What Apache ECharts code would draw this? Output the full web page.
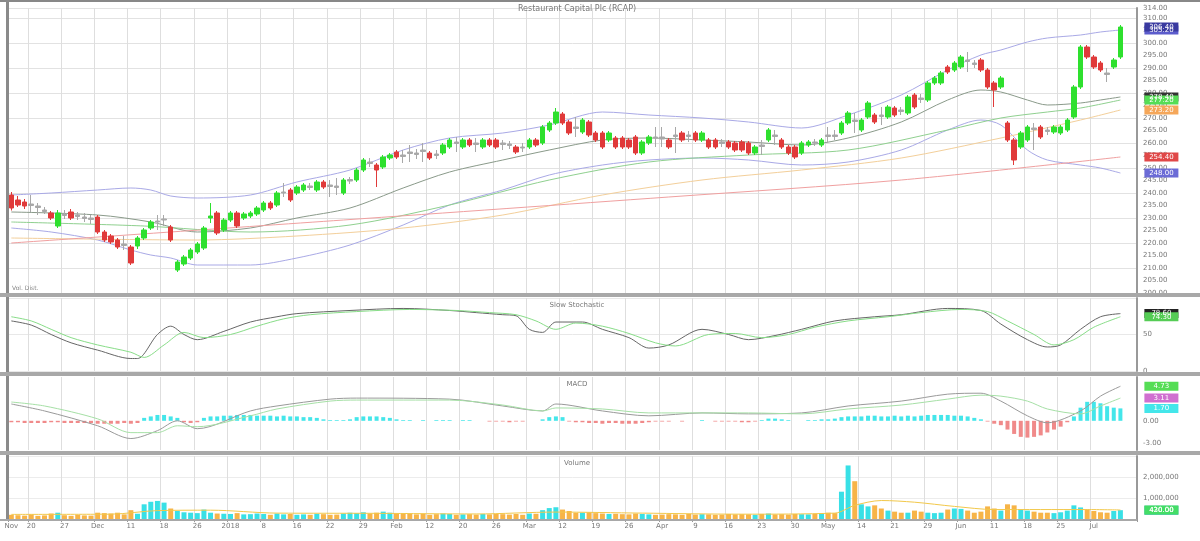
<!DOCTYPE html>
<html><head><meta charset="utf-8">
<script src="https://cdn.jsdelivr.net/npm/echarts@6/dist/echarts.min.js"></script>
<style>html,body{margin:0;padding:0;background:#fff}#c{width:1200px;height:541px}</style>
</head><body><div id="c"></div>
<script>
const titleText = 'Restaurant Capital Plc (RCAP)';
const panelTitles = ['Slow Stochastic', 'MACD', 'Volume'];

// [open, close, low, high]
const priceOHLC = [
[239.2,234.0,233.0,240.4],[237.2,235.2,234.4,238.8],[236.4,234.8,233.6,237.6],[235.6,235.0,232.4,239.2],[234.8,234.2,231.2,236.0],
[233.2,232.6,231.6,234.4],[232.0,230.0,229.2,232.8],[226.8,232.0,226.0,233.2],[231.6,231.0,229.6,233.2],[232.4,230.0,229.2,233.6],
[231.2,230.6,229.2,232.4],[230.4,229.8,228.4,232.0],[230.0,229.4,227.6,231.2],[230.4,224.4,223.6,231.2],[224.4,221.2,220.4,225.2],
[222.8,220.4,219.6,223.6],[221.2,218.4,217.6,222.0],[219.6,219.0,217.2,222.8],[218.4,212.0,211.2,219.2],[218.8,222.0,217.6,222.8],
[222.0,225.2,221.2,226.0],[226.0,228.4,225.2,229.2],[228.4,228.8,225.2,231.2],[229.2,229.6,226.8,231.2],[226.4,221.2,220.4,227.2],
[209.2,212.4,208.4,213.2],[211.6,214.4,210.8,215.2],[214.0,217.2,213.2,218.0],[216.4,219.6,215.6,220.4],[218.0,226.0,217.2,226.8],
[230.0,230.8,228.0,236.0],[232.0,224.0,223.2,232.8],[225.2,229.2,224.4,230.0],[229.2,232.0,228.4,232.8],[232.0,226.8,226.0,232.8],
[230.0,231.6,229.2,232.4],[230.8,232.0,230.0,232.8],[231.6,234.0,230.8,234.8],[233.2,236.0,232.4,236.8],[236.0,234.0,233.2,236.8],
[235.2,240.0,234.4,240.8],[240.0,240.4,238.4,244.0],[241.2,237.2,236.4,242.0],[240.0,242.4,239.2,243.2],[241.2,243.2,240.4,244.0],
[242.8,242.2,241.2,244.0],[241.2,244.4,240.4,245.2],[244.4,242.4,241.6,245.2],[243.2,242.6,238.4,245.2],[242.8,242.2,239.2,246.0],
[240.0,245.2,239.2,246.0],[244.8,245.4,243.6,246.4],[245.2,249.2,244.4,250.0],[249.2,253.2,248.4,254.0],[252.4,251.8,250.4,254.0],
[251.2,249.2,242.4,252.0],[250.4,254.4,249.6,255.2],[254.0,255.2,253.2,256.0],[256.4,254.4,253.6,257.2],[255.2,254.6,252.0,257.2],
[256.4,255.8,252.4,259.2],[256.0,255.4,253.6,257.6],[257.2,256.6,252.4,260.0],[256.0,254.0,253.2,256.8],[255.6,255.0,253.6,257.2],
[256.0,259.2,255.2,260.0],[258.4,261.2,257.6,262.0],[260.4,259.8,256.4,262.4],[258.4,261.2,257.6,262.0],[261.2,259.2,258.4,262.0],
[260.0,259.4,256.4,262.0],[258.4,261.2,257.6,262.0],[261.2,259.2,258.4,262.0],[261.2,258.4,257.6,262.0],[260.0,259.4,257.2,261.2],
[259.6,259.0,257.6,260.8],[258.4,256.4,255.6,259.2],[258.4,258.0,256.4,260.0],[258.4,261.2,257.6,262.0],[261.2,259.2,258.4,262.0],
[260.0,266.4,259.2,267.2],[265.2,268.0,264.4,268.8],[268.0,272.4,267.2,274.0],[271.6,268.0,267.2,272.4],[268.4,264.0,263.2,269.2],
[266.4,265.8,262.4,270.4],[264.4,269.2,263.6,270.0],[268.4,263.2,262.4,269.2],[264.0,261.2,260.4,264.8],[264.0,258.4,257.6,264.8],
[261.2,264.0,260.4,264.8],[262.0,258.4,257.6,262.8],[262.0,258.4,257.6,262.8],[261.2,258.4,257.6,262.0],[262.4,256.0,255.2,263.2],
[256.0,260.4,255.2,261.2],[260.0,262.4,259.2,263.2],[262.4,262.0,258.4,266.4],[262.4,261.6,258.4,266.4],[261.2,258.4,257.6,262.0],
[263.2,262.6,256.0,266.4],[264.0,261.2,260.4,264.8],[263.2,262.6,260.4,264.8],[264.0,261.2,260.4,264.8],[261.2,264.0,260.4,264.8],
[261.2,258.4,257.6,262.0],[261.2,258.4,257.6,262.0],[260.4,259.8,258.4,261.6],[260.4,258.4,257.6,261.2],[260.0,257.2,256.4,260.8],
[260.4,257.2,256.4,261.2],[260.0,256.0,255.2,260.8],[256.0,258.4,255.2,259.2],[259.2,258.6,255.2,261.2],[261.2,265.2,260.4,266.0],
[263.2,262.6,259.2,265.2],[261.2,258.4,257.6,262.0],[258.4,256.0,255.2,259.2],[258.4,254.4,253.6,259.2],[256.0,260.0,255.2,260.8],
[259.2,260.4,258.4,261.2],[260.4,260.0,258.8,261.6],[259.2,261.2,258.4,262.0],[263.2,262.6,260.0,266.4],[263.2,262.6,261.2,265.2],
[264.0,268.0,263.2,268.8],[268.0,272.0,267.2,272.8],[269.2,268.6,264.0,272.0],[265.2,269.2,264.4,270.0],[270.4,276.0,269.6,276.8],
[271.2,268.4,267.6,272.0],[271.2,270.6,267.2,274.4],[270.4,274.4,269.6,275.2],[274.0,271.2,270.4,274.8],[273.2,272.6,271.2,274.4],
[272.0,278.4,271.2,279.2],[279.2,274.4,273.6,280.0],[278.0,277.4,276.0,279.6],[277.2,284.0,276.4,284.8],[284.0,286.0,283.2,286.8],
[284.0,288.0,283.2,288.8],[290.4,288.4,287.6,291.2],[289.2,292.0,288.4,292.8],[290.4,294.4,289.6,295.2],[293.2,292.6,288.4,296.4],
[292.0,291.4,290.0,293.2],[293.2,289.2,288.4,294.0],[289.2,282.4,281.6,290.0],[284.0,281.2,274.4,284.8],[282.4,286.0,281.6,286.8],
[268.0,261.2,260.4,268.8],[261.2,253.2,251.2,262.0],[258.4,264.0,257.6,264.8],[261.2,266.4,260.4,267.2],[266.0,265.4,257.2,268.0],
[266.4,262.4,261.6,267.2],[265.2,264.6,263.2,266.4],[264.4,266.4,263.6,267.2],[264.0,266.4,263.2,267.2],[265.2,269.2,264.4,270.0],
[270.4,282.4,269.6,283.2],[282.4,298.4,281.6,299.2],[298.4,294.4,293.6,299.2],[294.4,290.4,289.6,295.2],[292.0,289.2,288.4,292.8],
[288.0,287.4,284.4,290.0],[290.4,293.2,289.6,294.0],[294.4,306.4,293.6,307.2]
];

const volumeK = [
200,180,160,220,150,170,260,300,180,150,
200,170,160,300,280,260,300,220,420,250,
700,820,860,780,500,380,320,300,280,450,
300,260,250,240,280,220,230,260,240,200,
260,220,240,200,220,200,250,230,200,210,
260,300,280,320,260,300,350,300,260,280,
240,220,250,200,230,260,240,200,220,230,
210,240,220,250,230,210,240,200,260,250,
420,520,560,450,380,300,300,320,280,260,
240,250,230,220,260,240,220,200,210,230,
220,200,240,210,230,220,200,210,240,220,
230,220,200,240,260,220,230,210,240,230,
220,250,260,300,280,1300,2550,1800,700,600,
650,500,400,350,300,300,400,350,300,280,
300,450,500,480,400,300,350,600,500,400,
700,650,450,400,350,300,300,280,320,400,
650,550,450,380,320,300,380,420
];
const volumeMA = [[0,220],[15,230],[22,400],[30,420],[40,280],[55,270],[70,240],[82,330],[95,280],[110,230],[124,280],[127,650],[131,880],[136,800],[142,600],[148,450],[155,450],[162,450],[167,430]];

const bbUpper = [[0,239.2],[6,240.0],[13,241.2],[18,242.0],[21,241.2],[24,238.8],[28,238.0],[36,239.2],[43,244.4],[51,249.2],[59,257.2],[66,262.0],[74,264.0],[81,267.2],[89,272.4],[96,271.2],[104,270.0],[111,268.4],[119,266.0],[126,271.2],[134,279.2],[141,289.2],[146,295.2],[149,297.2],[153,300.4],[156,302.0],[161,303.2],[164,304.4],[167,305.2]];
const bbMid = [[0,232.4],[13,231.2],[21,228.4],[28,224.4],[36,226.0],[43,230.0],[51,234.0],[59,242.0],[66,248.4],[74,253.2],[81,257.2],[89,261.2],[96,262.0],[104,261.2],[111,260.4],[119,259.2],[126,262.0],[134,268.4],[141,277.2],[146,281.2],[149,280.4],[153,277.2],[156,275.2],[161,276.0],[164,277.2],[167,278.4]];
const bbLower = [[0,226.0],[6,224.4],[13,221.2],[18,217.2],[21,215.2],[24,214.0],[28,211.2],[36,211.2],[43,214.0],[51,219.2],[59,227.2],[66,235.2],[74,241.2],[81,247.2],[89,251.2],[96,253.2],[104,254.0],[111,253.2],[119,251.2],[126,252.4],[134,257.2],[141,265.2],[146,269.2],[149,267.2],[153,257.2],[156,253.2],[161,251.2],[164,250.0],[167,248.0]];
const sma50 = [[0,228.4],[20,226.8],[36,224.4],[51,227.2],[66,235.2],[81,245.2],[96,252.4],[111,255.2],[126,257.2],[141,265.2],[149,270.0],[156,272.4],[161,274.0],[167,277.2]];
const sma100 = [[0,222.0],[28,221.2],[43,222.8],[59,226.0],[74,231.2],[89,239.2],[104,245.2],[119,249.2],[134,254.0],[149,262.0],[161,269.2],[167,273.2]];
const sma200 = [[0,220.0],[50,229.2],[99,238.4],[134,245.2],[167,254.4]];

const stochK = [[0,68.6],[3,62.9],[6,50.0],[9,38.6],[13,28.6],[18,17.1],[19,17.1],[22,50.0],[24,61.4],[26,50.0],[28,42.9],[32,54.3],[36,67.1],[40,74.3],[43,78.6],[51,82.9],[59,85.7],[66,82.9],[70,80.0],[74,77.1],[76,75.7],[78,57.1],[80,52.9],[82,67.1],[86,67.1],[89,57.1],[93,45.7],[96,31.4],[99,35.7],[104,57.1],[108,50.0],[111,42.9],[115,48.6],[119,57.1],[124,68.6],[130,74.3],[134,77.1],[141,85.7],[146,82.9],[149,64.3],[153,42.9],[156,32.9],[158,35.7],[161,57.1],[164,74.3],[167,78.6]];
const stochD = [[0,74.3],[3,68.6],[6,57.1],[9,45.7],[13,35.7],[18,25.7],[20,18.6],[23,35.7],[26,52.9],[29,45.7],[33,50.0],[37,61.4],[41,71.4],[45,77.1],[52,81.4],[60,84.3],[67,82.9],[72,80.0],[76,77.1],[79,68.6],[82,57.1],[85,65.7],[89,61.4],[93,51.4],[97,38.6],[100,34.3],[105,50.0],[109,51.4],[113,45.7],[117,50.0],[121,60.0],[126,68.6],[132,74.3],[137,80.0],[143,84.3],[147,81.4],[150,68.6],[154,50.0],[157,35.7],[160,42.9],[163,60.0],[167,74.3]];

const macdLine = [[0,2.30],[5,1.35],[13,-0.68],[18,-2.43],[22,-1.35],[25,0.00],[28,-1.08],[36,1.35],[40,2.03],[48,2.97],[52,3.11],[66,2.97],[74,2.03],[80,1.35],[82,2.30],[89,1.35],[96,0.68],[104,1.08],[111,0.95],[119,1.08],[126,2.03],[134,2.70],[141,3.65],[146,3.78],[149,2.70],[153,0.68],[156,-0.27],[161,1.35],[164,3.38],[167,4.73]];
const macdSignal = [[0,2.57],[5,2.03],[13,0.27],[18,-1.62],[22,-1.62],[25,-0.68],[28,-0.81],[36,0.68],[40,1.62],[48,2.70],[52,2.84],[66,2.84],[74,2.16],[80,1.35],[82,1.76],[89,1.62],[96,1.08],[104,1.08],[111,1.08],[119,0.95],[126,1.62],[134,2.16],[141,2.97],[146,3.51],[149,3.38],[153,2.70],[156,1.62],[161,0.95],[164,2.03],[167,3.11]];
const macdHist = [
-0.2,-0.2,-0.3,-0.3,-0.3,-0.3,-0.2,-0.2,-0.3,-0.3,-0.3,-0.3,-0.3,-0.4,-0.4,-0.4,-0.4,-0.3,-0.4,-0.3,
0.4,0.6,0.8,0.8,0.6,0.4,
-0.2,-0.3,-0.2,
0.4,0.6,0.6,0.7,0.7,0.8,0.8,0.8,0.7,0.7,0.7,0.6,0.7,0.6,0.6,0.5,0.5,0.4,
0.2,0.1,0.1,0.1,0.2,
0.5,0.6,0.6,0.6,0.5,0.4,0.2,
0.1,0.1,0.0,0.1,0.0,0.1,0.1,0.1,0.0,0.1,0.1,0.0,0.0,-0.1,-0.1,-0.1,-0.2,-0.1,-0.1,0.0,0.0,0.2,
0.5,0.6,0.5,
-0.1,-0.2,-0.2,-0.3,-0.3,-0.4,-0.3,-0.3,-0.4,-0.4,-0.4,-0.3,
-0.2,-0.1,-0.1,-0.1,0.0,-0.1,0.0,0.0,0.1,0.0,-0.1,-0.1,-0.1,-0.1,-0.2,-0.2,-0.1,
0.1,0.3,0.3,0.2,0.1,0.0,
0.0,0.1,0.1,0.2,0.2,
0.3,0.5,0.6,0.6,0.6,0.7,0.7,0.6,0.6,0.7,0.6,0.7,0.6,0.7,0.8,0.8,0.8,0.8,0.7,0.7,0.6,
0.4,0.2,-0.1,-0.4,-0.6,
-1.2,-1.8,-2.2,-2.3,-2.2,-2.0,-1.6,-1.2,-0.8,
-0.2,0.6,1.8,2.6,2.6,2.4,2.0,1.8,1.7
];

const xTicks = [[0,'Nov'],[3,'20'],[8,'27'],[13,'Dec'],[18,'11'],[23,'18'],[28,'26'],[33,'2018'],[38,'8'],[43,'16'],[48,'22'],[53,'29'],[58,'Feb'],[63,'12'],[68,'20'],[73,'26'],[78,'Mar'],[83,'12'],[88,'19'],[93,'26'],[98,'Apr'],[103,'9'],[108,'16'],[113,'23'],[118,'30'],[123,'May'],[128,'14'],[133,'21'],[138,'29'],[143,'Jun'],[148,'11'],[153,'18'],[158,'25'],[163,'Jul']];

const nSlots = 170;
const categories = Array.from({length: nSlots}, (_, i) => String(i));
const tickMap = new Map(xTicks);
const last = priceOHLC.length - 1;

const UP = '#2ee02e', DOWN = '#e03a3a', NEUT = '#a8a8a8';
const candleData = priceOHLC.map(d => {
  if (Math.abs(d[1] - d[0]) <= 0.8) {
    return {value: d, itemStyle: {color: NEUT, color0: NEUT, borderColor: NEUT, borderColor0: NEUT}};
  }
  return d;
});
const volData = volumeK.map((v, i) => ({
  value: v,
  itemStyle: {color: priceOHLC[i][1] >= priceOHLC[i][0] ? '#38e0e6' : '#f7b448'}
}));
const histData = macdHist.map(v => ({value: v, itemStyle: {color: v >= 0 ? '#44e6ea' : '#f08a8a'}}));

function lastVal(arr) { const p = arr[arr.length - 1]; return Array.isArray(p) ? p[1] : p; }
function tag(color, val, textColor, dx) {
  return {
    symbol: 'rect', symbolSize: [34, 9], symbolOffset: [dx || 41, 0], silent: true,
    itemStyle: {color: color},
    label: {show: true, position: 'inside', fontSize: 7, color: textColor || '#fff', formatter: () => val.toFixed(2), fontFamily: 'DejaVu Sans'},
    data: [{coord: [last, val]}]
  };
}

const FONT = 'DejaVu Sans';
const grids = [
  {left: 8, right: 63, top: 8, height: 285},
  {left: 8, right: 63, top: 298, height: 73},
  {left: 8, right: 63, top: 377, height: 73},
  {left: 8, right: 63, top: 456, height: 63}
];
const xAxes = grids.map((g, gi) => ({
  type: 'category', gridIndex: gi, data: categories, boundaryGap: true,
  axisLine: {show: gi === 3, lineStyle: {color: '#999'}},
  axisTick: {show: gi === 3, interval: (i) => tickMap.has(i), lineStyle: {color: '#999'}, length: 3},
  axisLabel: {show: gi === 3, interval: (i) => tickMap.has(i), formatter: (v) => tickMap.get(+v) || '', fontSize: 7, color: '#777', fontFamily: FONT, margin: 4},
  splitLine: {show: true, interval: (i) => tickMap.has(i), lineStyle: {color: '#dedede', width: 1}}
}));
const axisLbl = {fontSize: 7, color: '#777', fontFamily: FONT, margin: 6};
const yAxes = [
  {type: 'value', gridIndex: 0, position: 'right', min: 200, max: 314, interval: 5, scale: true,
   axisLine: {show: true, lineStyle: {color: '#999', width: 2}}, axisTick: {show: false},
   axisLabel: Object.assign({}, axisLbl, {formatter: v => v.toFixed(2)}), splitLine: {show: false}},
  {type: 'value', gridIndex: 0, position: 'right', min: 200, max: 314, interval: 10,
   axisLine: {show: false}, axisTick: {show: false}, axisLabel: {show: false},
   splitLine: {show: true, lineStyle: {color: '#e2e2e2'}}},
  {type: 'value', gridIndex: 1, position: 'right', min: 0, max: 100, interval: 50,
   axisLine: {show: true, lineStyle: {color: '#999', width: 2}}, axisTick: {show: false},
   axisLabel: Object.assign({}, axisLbl, {formatter: v => v === 100 ? '' : String(v)}),
   splitLine: {show: true, lineStyle: {color: '#e8e8e8'}}},
  {type: 'value', gridIndex: 2, position: 'right', min: -4, max: 6,
   axisLine: {show: true, lineStyle: {color: '#999', width: 2}}, axisTick: {show: false},
   axisLabel: Object.assign({}, axisLbl, {customValues: [-3, 0], formatter: v => v.toFixed(2)}),
   splitLine: {show: false}},
  {type: 'value', gridIndex: 3, position: 'right', min: 0, max: 3000, interval: 1000,
   axisLine: {show: true, lineStyle: {color: '#999', width: 2}}, axisTick: {show: false},
   axisLabel: Object.assign({}, axisLbl, {formatter: v => (v === 0 || v === 3000) ? '' : (v * 1000).toLocaleString('en-US')}),
   splitLine: {show: true, lineStyle: {color: '#ececec'}}}
];

function lineS(name, data, color, xi, yi, width, tg) {
  return {name, type: 'line', xAxisIndex: xi, yAxisIndex: yi, data, symbol: 'none', smooth: 0.3,
    lineStyle: {color, width: width || 1}, z: 3, silent: true,
    markPoint: tg || undefined};
}

const option = {
  animation: false,
  backgroundColor: '#fff',
  title: [
    {text: titleText, left: 572, top: 0, textAlign: 'center', textStyle: {fontSize: 8, color: '#777', fontWeight: 'normal', fontFamily: FONT}},
    {text: panelTitles[0], left: 572, top: 297, textAlign: 'center', textStyle: {fontSize: 7, color: '#777', fontWeight: 'normal', fontFamily: FONT}},
    {text: panelTitles[1], left: 572, top: 376, textAlign: 'center', textStyle: {fontSize: 7, color: '#777', fontWeight: 'normal', fontFamily: FONT}},
    {text: panelTitles[2], left: 572, top: 455, textAlign: 'center', textStyle: {fontSize: 7, color: '#777', fontWeight: 'normal', fontFamily: FONT}}
  ],
  grid: grids,
  xAxis: xAxes,
  yAxis: yAxes,
  series: [
    lineS('BB Upper', bbUpper, '#a9a9e6', 0, 0, 1, tag('#5c5ccc', lastVal(bbUpper), '#fff', 41)),
    lineS('BB Lower', bbLower, '#a9a9e6', 0, 0, 1, tag('#6b6bd6', lastVal(bbLower))),
    lineS('BB Mid', bbMid, '#8a9a8a', 0, 0, 1, tag('#333333', lastVal(bbMid))),
    lineS('SMA 50', sma50, '#8fd08f', 0, 0, 1, tag('#55dd55', lastVal(sma50))),
    lineS('SMA 100', sma100, '#f3cf9a', 0, 0, 1, tag('#f5a75a', lastVal(sma100))),
    lineS('SMA 200', sma200, '#f0a0a0', 0, 0, 1, tag('#e04848', lastVal(sma200))),
    {name: 'Price', type: 'candlestick', xAxisIndex: 0, yAxisIndex: 0, data: candleData, barWidth: 5, z: 5,
     itemStyle: {color: UP, color0: DOWN, borderColor: UP, borderColor0: DOWN, borderWidth: 1},
     markPoint: tag('#3a3aa0', priceOHLC[last][1])},
    lineS('%K', stochK, '#666666', 1, 2, 1, tag('#222222', lastVal(stochK))),
    lineS('%D', stochD, '#88dd88', 1, 2, 1, tag('#55cc55', lastVal(stochD), '#fff', 41)),
    {name: 'Hist', type: 'bar', xAxisIndex: 2, yAxisIndex: 3, data: histData, barWidth: 4, z: 2,
     markPoint: tag('#44e6ea', macdHist[last])},
    lineS('MACD', macdLine, '#9a9a9a', 2, 3, 1, tag('#55dd55', lastVal(macdLine))),
    lineS('Signal', macdSignal, '#a6e0a6', 2, 3, 1, tag('#d070d0', lastVal(macdSignal))),
    {name: 'Volume', type: 'bar', xAxisIndex: 3, yAxisIndex: 4, data: volData, barWidth: 5, z: 2,
     markPoint: tag('#2ab0b0', volumeK[last])},
    lineS('Vol MA', volumeMA, '#f2c84a', 3, 4, 1, tag('#44dd66', lastVal(volumeMA)))
  ],
  graphic: [
    {type: 'rect', shape: {x: 0, y: 0, width: 1200, height: 2}, style: {fill: '#888'}, z: 100},
    {type: 'rect', shape: {x: 6, y: 0, width: 3, height: 521}, style: {fill: '#8a8a8a'}, z: 100},
    {type: 'rect', shape: {x: 0, y: 293, width: 1200, height: 4}, style: {fill: '#a8a8a8'}, z: 100},
    {type: 'rect', shape: {x: 0, y: 372, width: 1200, height: 4}, style: {fill: '#a8a8a8'}, z: 100},
    {type: 'rect', shape: {x: 0, y: 451, width: 1200, height: 4}, style: {fill: '#a8a8a8'}, z: 100},
    {type: 'rect', shape: {x: 0, y: 519, width: 1137, height: 2}, style: {fill: '#a8a8a8'}, z: 100},
    {type: 'text', left: 12, top: 285, style: {text: 'Vol. Dist.', fontSize: 6, fill: '#888', fontFamily: FONT}, z: 100}
  ]
};
const chart = echarts.init(document.getElementById('c'), null, {renderer: 'canvas'});
chart.setOption(option);
</script>
</body></html>
